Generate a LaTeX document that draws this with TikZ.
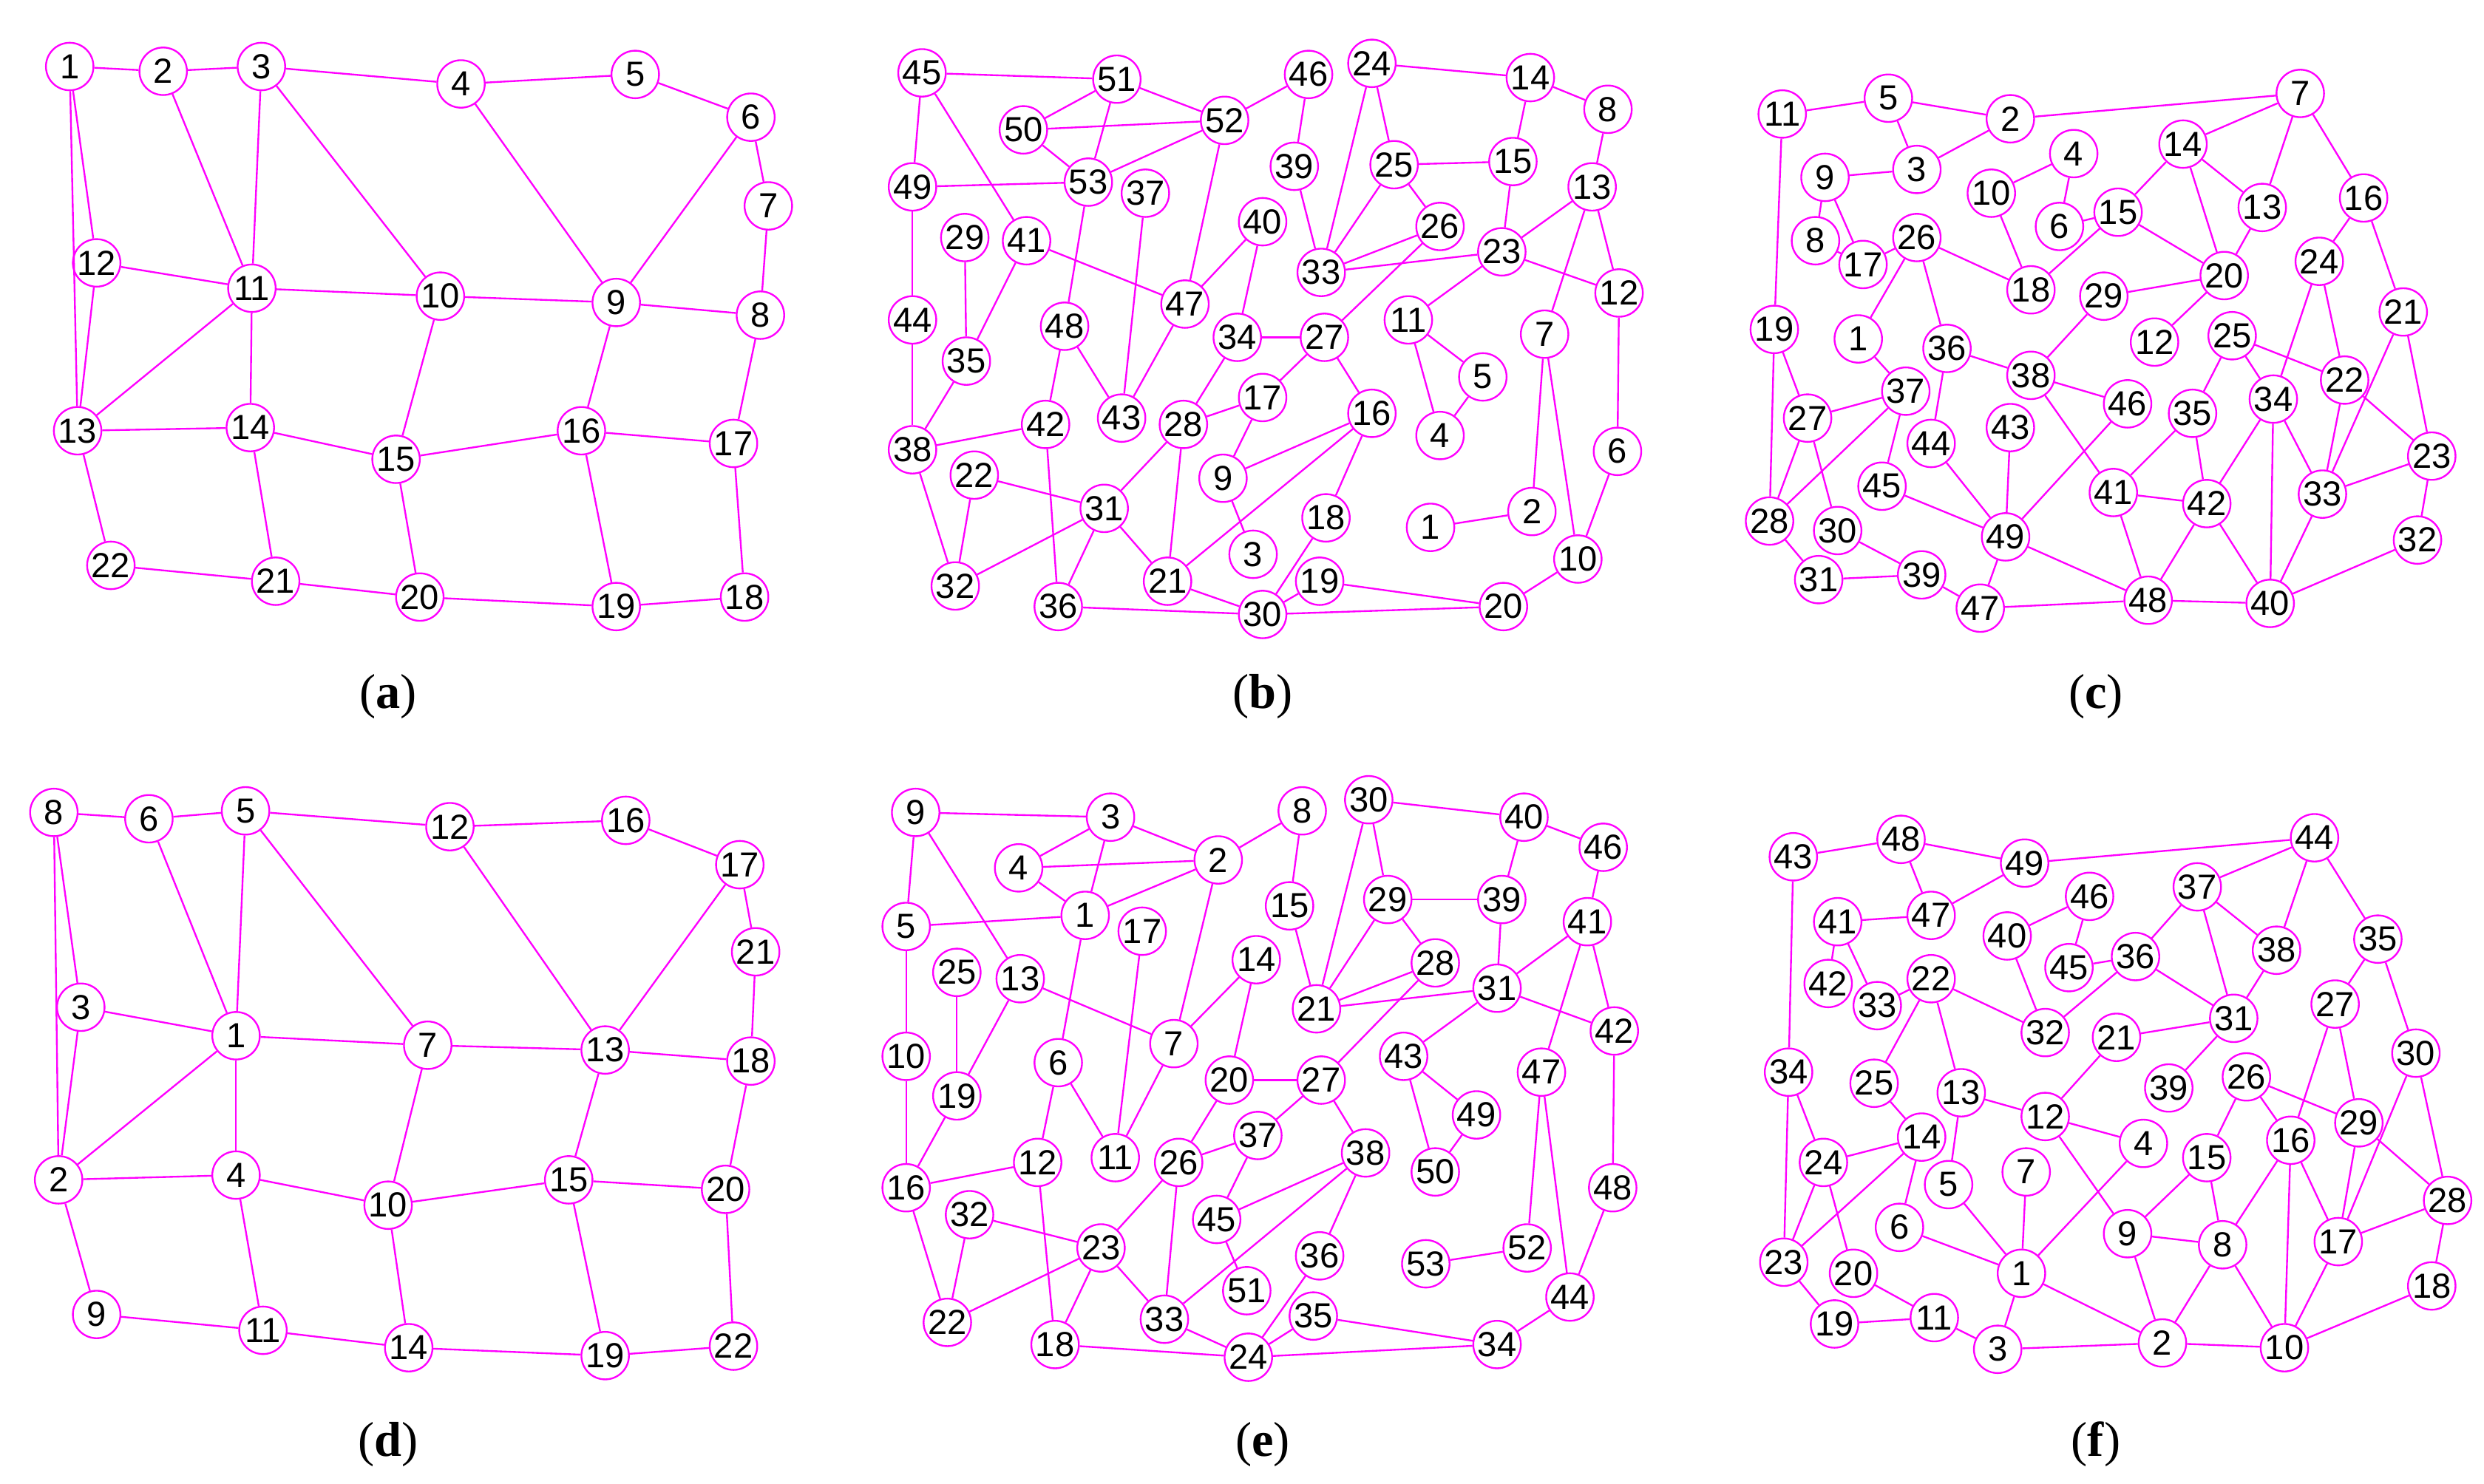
\documentclass[tikz,border=0pt]{standalone}
\usepackage{fontspec}
\setmainfont{Liberation Sans}
\newfontfamily\capfont{Liberation Serif}
\definecolor{mag}{RGB}{255,0,255}
\begin{document}
\begin{tikzpicture}[x=1pt,y=-1pt,
  v/.style={circle,draw=mag,line width=1.1pt,fill=white,minimum size=30pt,inner sep=0pt,font=\fontsize{22}{22}\selectfont},
  e/.style={draw=mag,line width=1.1pt},
  sublabel/.style={font=\fontsize{31}{32}\selectfont\capfont}]
\useasboundingbox (0,0) rectangle (1568,937);
% (a)
\foreach \n/\x/\y in {1/44/42,2/103/45,3/165/42,4/291/53,5/401/47,6/474/74,7/485/130,8/480/199,9/389/191,10/278/187,11/159/182,12/61/166,13/49/272,14/158/270,15/250/290,16/367/272,17/463/280,18/470/377,19/389/383,20/265/377,21/174/367,22/70/357}
  \node[v] (a\n) at (\x,\y) {\n};
\foreach \s/\t in {1/2,2/3,3/4,4/5,5/6,6/7,7/8,1/12,1/13,12/13,12/11,2/11,3/11,3/10,4/9,6/9,11/10,10/9,9/8,11/13,11/14,13/14,13/22,14/15,10/15,9/16,15/16,16/17,8/17,17/18,16/19,15/20,14/21,22/21,21/20,20/19,19/18}
  \draw[e] (a\s) -- (a\t);
\node[sublabel] (la) at (245,440) {(\textbf{a})};
% (b)
\foreach \n/\x/\y in {45/582/46,51/705/50,46/826/47,24/866/40,14/966/49,8/1015/69,50/646/82,52/773/76,39/817/105,25/880/104,15/955/102,13/1005/118,49/576/118,53/687/115,37/723/122,40/797/140,26/909/143,33/834/172,23/948/159,29/609/150,41/648/152,47/748/192,11/889/202,12/1022/185,44/576/202,48/672/206,34/781/213,27/836/213,7/975/211,35/610/228,5/936/238,42/660/268,43/708/264,28/747/268,17/797/251,16/866/261,4/909/275,6/1021/285,38/576/284,22/615/300,31/697/321,9/772/302,18/837/327,1/903/333,2/967/323,3/791/350,32/603/370,21/737/367,19/833/367,36/668/383,30/797/388,20/949/383,10/996/353}
  \node[v] (b\n) at (\x,\y) {\n};
\foreach \s/\t in {45/51,45/49,45/41,51/50,51/52,51/53,50/52,50/53,53/52,52/46,52/47,49/53,49/44,44/38,29/35,41/35,41/47,35/38,53/48,37/43,48/43,48/42,47/43,47/40,40/34,34/27,34/28,28/17,17/27,17/9,27/26,27/16,16/9,16/21,16/18,18/30,9/3,38/42,38/32,22/31,22/32,31/32,31/28,31/36,31/21,42/36,28/21,21/30,36/30,30/19,30/20,19/20,20/10,46/39,39/33,24/33,24/25,24/14,25/15,25/33,25/26,26/33,33/23,15/14,15/23,14/8,8/13,13/23,13/12,13/7,23/11,23/12,11/5,11/4,5/4,7/2,7/10,12/6,6/10,1/2}
  \draw[e] (b\s) -- (b\t);
\node[sublabel] (lb) at (797,440) {(\textbf{b})};
% (c)
\foreach \n/\x/\y in {11/1125/72,5/1192/62,2/1269/75,7/1452/59,9/1152/112,3/1210/107,4/1309/97,10/1257/122,14/1378/91,6/1300/143,15/1337/134,13/1428/131,16/1492/125,8/1146/152,17/1176/167,26/1210/150,18/1282/183,20/1404/174,29/1328/187,24/1464/165,21/1517/197,19/1120/208,1/1173/214,12/1360/216,36/1229/220,38/1282/237,25/1409/212,22/1480/240,34/1435/252,46/1343/255,37/1203/247,27/1141/264,35/1384/261,44/1219/280,43/1269/270,23/1535/288,45/1188/307,41/1334/311,42/1393/318,33/1466/312,28/1117/329,30/1160/335,49/1266/339,32/1526/341,31/1148/366,39/1213/363,47/1250/384,48/1356/379,40/1433/381}
  \node[v] (c\n) at (\x,\y) {\n};
\foreach \s/\t in {11/5,5/2,5/3,3/2,2/7,11/19,9/3,9/8,9/17,8/17,17/26,26/1,26/18,26/36,10/4,4/6,10/18,6/15,15/18,15/14,15/20,14/7,14/13,14/20,7/13,7/16,13/20,20/29,20/12,16/24,16/21,24/34,24/22,21/23,21/33,19/27,19/28,1/37,37/27,37/28,37/45,27/28,27/30,28/31,30/39,31/39,39/47,36/38,36/44,29/38,38/46,38/41,44/49,43/49,45/49,46/49,49/47,49/48,47/48,48/40,41/42,41/48,41/35,35/25,35/42,25/34,25/22,22/33,22/23,34/42,34/40,34/33,42/48,42/40,33/40,33/23,23/32,32/40}
  \draw[e] (c\s) -- (c\t);
\node[sublabel] (lc) at (1323,440) {(\textbf{c})};
% (d)
\foreach \n/\x/\y in {8/34/513,6/94/517,5/155/512,12/284/522,16/395/518,17/467/546,21/477/601,3/51/636,1/149/654,7/270/660,13/382/663,18/474/670,2/37/745,4/149/742,10/245/761,15/359/745,20/458/751,9/61/830,11/166/840,14/258/851,19/382/856,22/463/850}
  \node[v] (d\n) at (\x,\y) {\n};
\foreach \s/\t in {8/6,6/5,5/12,12/16,16/17,17/21,21/18,8/3,8/2,3/2,3/1,6/1,5/1,5/7,1/7,7/13,12/13,17/13,13/18,1/2,1/4,2/4,2/9,4/10,7/10,10/15,13/15,15/20,18/20,4/11,9/11,11/14,10/14,14/19,15/19,19/22,20/22}
  \draw[e] (d\s) -- (d\t);
\node[sublabel] (ld) at (245,912) {(\textbf{d})};
% (e)
\foreach \n/\x/\y in {9/578/513,3/701/516,8/822/512,30/864/505,40/962/516,46/1012/535,4/643/548,2/769/543,5/572/585,1/685/578,17/721/588,15/814/572,29/876/568,39/948/568,41/1002/582,25/604/614,13/644/618,14/793/606,28/906/608,21/831/637,31/945/624,42/1019/651,7/741/659,10/572/667,6/668/671,20/776/682,27/834/682,43/886/667,47/973/677,49/932/704,19/604/692,12/655/734,11/704/731,26/744/734,37/794/717,38/862/728,50/906/740,16/572/750,48/1018/750,32/612/767,45/768/770,23/695/788,36/833/793,53/900/798,52/964/788,51/787/815,44/991/819,22/598/835,33/735/833,35/829/831,18/666/849,24/788/857,34/945/849}
  \node[v] (e\n) at (\x,\y) {\n};
\foreach \s/\t in {9/3,9/5,9/13,3/4,3/2,3/1,4/2,4/1,1/2,2/8,2/7,5/1,5/10,10/16,1/6,17/11,13/7,13/19,25/19,19/16,16/12,16/22,6/12,6/11,7/11,7/14,14/20,20/27,20/26,8/15,15/21,30/21,30/29,30/40,29/21,29/39,29/28,28/21,28/27,21/31,40/39,40/46,39/31,46/41,41/31,41/42,41/47,31/42,31/43,43/49,43/50,49/50,27/37,27/38,37/26,37/45,38/45,38/33,38/36,45/51,26/23,26/33,12/18,32/23,32/22,23/22,23/18,23/33,33/24,18/24,36/24,24/35,24/34,35/34,34/44,44/48,42/48,47/52,47/44,53/52}
  \draw[e] (e\s) -- (e\t);
\node[sublabel] (le) at (797,912) {(\textbf{e})};
% (f)
\foreach \n/\x/\y in {43/1132/541,48/1200/530,49/1278/545,44/1461/529,37/1387/560,46/1319/566,41/1160/582,47/1219/578,40/1267/591,35/1501/593,38/1437/600,45/1306/611,36/1348/604,42/1154/621,33/1185/635,22/1219/618,27/1474/634,32/1291/652,21/1336/655,31/1410/643,30/1525/665,34/1129/677,25/1183/684,13/1238/690,39/1369/687,26/1418/680,12/1291/705,29/1489/709,16/1446/720,24/1151/734,14/1213/718,4/1353/722,7/1279/740,15/1393/731,5/1230/748,6/1199/775,9/1343/779,8/1403/786,17/1476/784,28/1545/758,23/1126/797,20/1170/804,1/1276/804,18/1535/812,11/1221/832,19/1158/836,3/1261/852,2/1365/848,10/1442/851}
  \node[v] (f\n) at (\x,\y) {\n};
\foreach \s/\t in {43/48,48/49,49/44,48/47,47/49,41/47,41/42,41/33,33/22,40/46,46/45,45/36,40/32,36/32,36/37,36/31,37/44,37/38,37/31,44/38,44/35,38/31,35/27,35/30,22/32,22/25,22/13,31/21,31/39,43/34,34/23,34/24,25/14,13/12,13/5,21/12,12/4,12/9,27/16,27/29,30/28,30/17,26/15,26/16,26/29,29/17,29/28,24/14,14/23,14/6,24/23,24/20,5/1,7/1,6/1,4/1,15/9,15/8,9/8,9/2,16/8,16/10,16/17,8/2,8/10,17/10,17/28,28/18,18/10,1/3,1/2,3/2,2/10,23/19,20/11,19/11,11/3}
  \draw[e] (f\s) -- (f\t);
\node[sublabel] (lf) at (1323,912) {(\textbf{f})};
\end{tikzpicture}
\end{document}
